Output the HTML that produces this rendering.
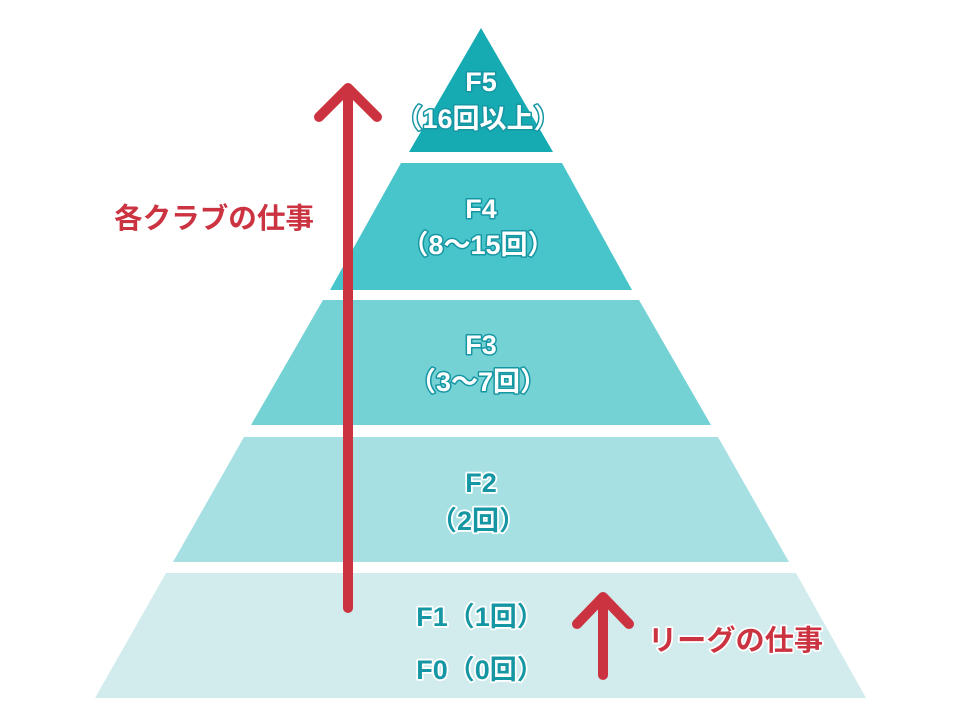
<!DOCTYPE html>
<html><head><meta charset="utf-8"><style>
html,body{margin:0;padding:0;background:#fff;}
svg{display:block}
text{font-family:"Liberation Sans","Noto Sans CJK JP",sans-serif;font-weight:bold;paint-order:stroke;stroke-linejoin:round;}
.w{fill:#fff;stroke:#1596a3;stroke-width:3;}
.t{fill:#1596a3;stroke:#fff;stroke-width:3.5;}
.r{fill:#cc3341;stroke:#fff;stroke-width:3.5;}
</style></head><body>
<svg width="980" height="720" viewBox="0 0 980 720">
<polygon points="481,28 553,152 409,152" fill="#16aab2"/>
<polygon points="401,163 562,163 632,290 330,290" fill="#47c5ca"/>
<polygon points="323,300 639,300 711,425 251,425" fill="#74d2d5"/>
<polygon points="244,437 718,437 789,562 173,562" fill="#a6e0e2"/>
<polygon points="166,573 796,573 866,698 95,698" fill="#d2ecee"/>

<g font-size="27" text-anchor="middle">
<text class="w" x="481" y="91">F5</text>
<text class="w" x="478" y="128">（16回以上）</text>
<text class="w" x="481" y="218">F4</text>
<text class="w" x="478" y="254">（8〜15回）</text>
<text class="w" x="481" y="354">F3</text>
<text class="w" x="478" y="391">（3〜7回）</text>
<text class="t" x="481" y="492">F2</text>
<text class="t" x="478" y="530">（2回）</text>
<text class="t" x="480" y="626">F1（1回）</text>
<text class="t" x="480" y="679">F0（0回）</text>
</g>

<g stroke="#cc3341" stroke-width="10" stroke-linecap="round" stroke-linejoin="round" fill="none">
<line x1="348" y1="608" x2="348" y2="90"/>
<polyline points="319,117 348,88 377,117"/>
<line x1="603" y1="675" x2="603" y2="598"/>
<polyline points="577,624 603,597 629,624"/>
</g>
<text class="r" x="114" y="228" font-size="28.5" textLength="200" lengthAdjust="spacingAndGlyphs">各クラブの仕事</text>
<text class="r" x="648" y="650" font-size="28.5" textLength="175" lengthAdjust="spacingAndGlyphs">リーグの仕事</text>
</svg>
</body></html>
